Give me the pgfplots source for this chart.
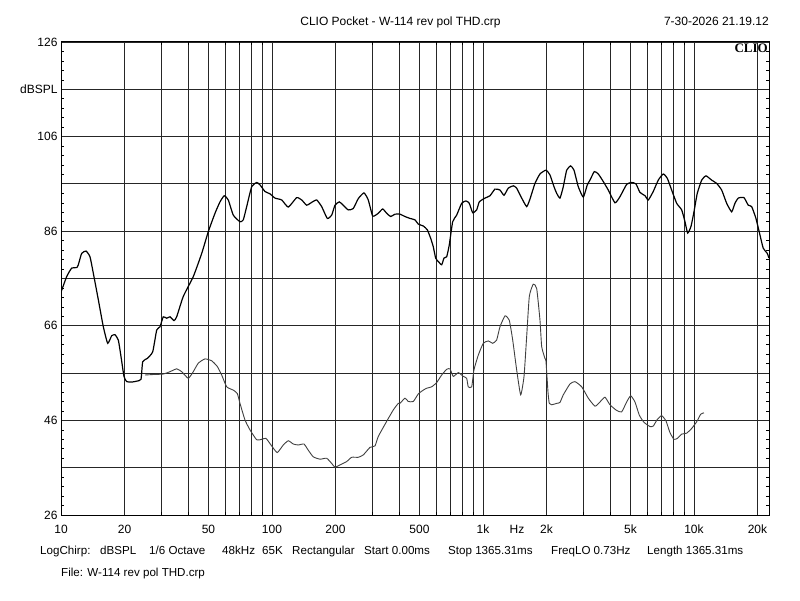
\documentclass[border=0pt]{standalone}
\usepackage{fontspec}
\setmainfont{Liberation Sans}
\newfontfamily\clioserif{Liberation Serif}
\usepackage{pgfplots}
\usepackage{pgfplotstable}
\pgfplotsset{compat=1.18}

\pgfplotstableread{
f db
10.0 73.1
10.64 76.4
11.24 78.2
11.87 78.3
12.08 78.9
12.53 81.3
13.14 81.8
13.72 80.6
14.23 77.1
15.03 71.5
15.87 65.8
16.65 62.3
17.39 63.9
18.03 64.1
18.69 63.0
19.25 59.5
19.89 55.3
20.49 54.2
21.63 54.1
22.85 54.3
23.94 54.7
24.39 58.4
25.64 59.1
27.20 60.5
28.42 65.1
29.46 65.8
30.53 67.9
31.69 67.6
32.86 67.9
34.32 67.1
35.34 67.9
37.98 72.2
42.36 76.4
46.44 81.3
49.90 85.9
53.70 89.8
56.70 92.2
59.41 93.5
62.07 92.6
65.55 89.4
70.53 88.0
73.11 88.4
75.87 91.2
80.13 95.4
84.62 96.3
87.71 95.8
92.64 94.4
97.84 93.9
103.3 93.0
111.2 92.6
119.5 91.1
130.9 93.1
138.3 92.6
146.0 91.5
154.3 92.1
162.8 92.6
172.0 91.2
182.9 88.7
191.9 89.4
198.9 91.5
208.4 92.2
217.7 91.5
229.9 90.5
242.8 90.8
256.5 92.9
272.9 94.1
286.0 92.6
300.2 89.2
319.0 89.8
334.6 90.7
349.6 89.8
365.2 89.1
382.8 89.6
404.2 89.6
426.9 89.1
450.8 88.7
476.1 88.4
493.6 87.5
521.3 87.1
544.5 86.3
565.0 84.5
581.4 82.7
596.8 80.3
614.0 79.6
637.2 78.9
653.4 80.3
673.0 80.6
692.3 83.1
718.5 88.0
750.6 89.4
792.7 91.9
830.6 92.4
861.1 91.9
893.6 89.9
933.5 90.5
960.5 92.2
1022 93.0
1080 93.5
1140 94.9
1204 94.7
1258 93.6
1318 95.1
1392 95.6
1444 95.1
1526 93.0
1611 91.2
1670 92.8
1764 96.1
1863 98.1
1989 98.9
2077 97.9
2171 95.4
2236 94.0
2317 93.0
2402 95.4
2493 98.9
2604 99.8
2700 98.9
2830 95.4
2988 93.2
3122 95.8
3215 96.8
3370 98.6
3520 98.1
3717 96.5
3925 94.7
4223 92.0
4460 93.3
4797 95.9
5067 96.3
5310 96.0
5548 94.2
5860 93.5
6074 92.6
6413 94.4
6774 96.8
7154 98.1
7473 97.2
7840 94.7
8279 91.9
8745 90.5
9066 88.0
9335 85.6
9679 87.0
10000 90.1
10366 94.0
10877 96.8
11400 97.7
12132 96.8
12812 96.1
13529 94.7
14289 91.9
15090 90.1
15642 91.9
16220 93.0
17258 93.1
18085 91.5
18771 91.2
19670 88.7
20550 85.2
21300 82.4
22260 81.3
22680 80.3
}\resptable

\pgfplotstableread{
f db
25.01 55.6
27.38 55.7
30.53 55.8
32.86 56.3
35.34 56.9
37.33 56.3
40.11 54.9
42.36 56.3
44.74 58.1
48.13 59.0
51.79 58.6
55.05 57.4
57.76 55.6
61.00 53.1
65.55 52.4
68.47 51.7
70.53 49.6
74.47 46.1
78.65 44.0
84.62 41.9
89.38 42.0
93.67 42.2
99.68 40.6
105.9 39.2
113.1 40.8
119.5 41.7
126.2 41.0
133.2 40.8
141.8 41.0
148.6 39.7
156.9 38.3
168.9 37.8
181.6 38.0
191.9 36.9
198.9 36.1
210.1 36.6
225.9 37.3
238.6 38.2
256.5 38.2
270.8 38.7
291.4 40.3
307.7 40.6
319.0 42.6
349.6 45.8
375.7 48.2
396.8 49.6
404.2 49.6
426.9 50.7
442.6 50.0
467.5 50.0
493.6 51.6
521.3 52.4
541.0 52.8
571.3 53.1
603.4 54.0
637.2 55.6
673.0 56.8
697.7 56.9
723.4 55.3
763.9 56.1
806.7 55.3
836.9 54.9
851.7 53.1
884.1 53.1
906.5 56.7
950.0 59.8
1003 62.3
1060 62.8
1112 62.3
1161 63.0
1204 65.8
1272 68.1
1332 67.2
1383 63.0
1444 56.7
1509 51.4
1565 55.3
1611 63.7
1658 72.2
1731 74.8
1797 73.9
1863 67.2
1898 61.6
1967 59.1
1989 58.5
2033 52.0
2062 49.6
2117 49.3
2236 49.6
2317 49.8
2402 51.4
2584 53.7
2729 54.2
2937 53.1
3156 50.7
3396 49.0
3585 49.9
3786 50.9
3999 49.3
4302 48.1
4543 47.8
4797 49.9
5012 51.2
5253 49.9
5508 47.1
5794 45.6
6188 44.7
6413 44.8
6701 46.2
7030 47.0
7368 45.9
7697 43.4
8041 42.0
8338 42.2
8745 43.1
9235 43.3
9752 44.3
10299 45.7
10760 47.3
11155 47.6
}\thdtable

\begin{document}
\begin{tikzpicture}[font=\fontsize{12}{14}\selectfont]
\path[use as bounding box, fill=white] (0,0) rectangle (800pt,600pt);
\begin{axis}[
  at={(61pt,85pt)}, anchor=south west,
  scale only axis, width=708pt, height=473pt,
  xmode=log, log basis x=10,
  xmin=10, xmax=22680, ymin=26, ymax=126,
  xtick={10,20,50,100,200,500,1000,2000,5000,10000,20000},
  xticklabels={10,20,50,100,200,500,1k,2k,5k,10k,20k},
  minor xtick={30,40,60,70,80,90,300,400,600,700,800,900,3000,4000,6000,7000,8000,9000},
  extra x ticks={1449}, extra x tick labels={Hz},
  extra x tick style={grid=none},
  ytick={26,36,...,126},
  yticklabels={26,,46,,66,,86,,106,dBSPL,126},
  minor y tick num=4,
  xmajorgrids=true, xminorgrids=true, ymajorgrids=true,
  major grid style={black!85, line width=0.8pt},
  minor grid style={black!85, line width=0.8pt},
  tick align=inside, tick pos=both,
  major tick length=0pt, minor tick length=3pt,
  every tick/.style={black, line width=0.6pt},
  axis line style={black, line width=1pt},
  tick label style={font=\fontsize{12}{14}\selectfont},
  xticklabel style={yshift=-6.5pt},
  xticklabel pos=lower, yticklabel pos=left,
  clip=true,
]
\addplot[black, line width=1.2pt, smooth, tension=0.3] table[x=f, y=db] {\resptable};
\addplot[black!75, line width=0.9pt, smooth, tension=0.3] table[x=f, y=db] {\thdtable};
\end{axis}
\node[anchor=base] at (400.5pt,574pt) {CLIO Pocket - W-114 rev pol THD.crp};
\node[anchor=base east, inner sep=0pt] at (769pt,574pt) {7-30-2026 21.19.12};
\node[anchor=base east, inner sep=0pt] at (768pt,547pt) {\clioserif\bfseries\fontsize{13}{14}\selectfont CLIO};
\begin{scope}[every node/.style={anchor=base west, inner sep=0pt, font=\fontsize{11.6}{14}\selectfont}]
\node at (40pt,45.5pt) {LogChirp:};
\node at (100pt,45.5pt) {dBSPL};
\node at (149pt,45.5pt) {1/6 Octave};
\node at (222pt,45.5pt) {48kHz};
\node at (262pt,45.5pt) {65K};
\node at (292pt,45.5pt) {Rectangular};
\node at (364pt,45.5pt) {Start 0.00ms};
\node at (448pt,45.5pt) {Stop 1365.31ms};
\node at (551pt,45.5pt) {FreqLO 0.73Hz};
\node at (647pt,45.5pt) {Length 1365.31ms};
\node at (61pt,24pt) {File: W-114 rev pol THD.crp};
\end{scope}
\end{tikzpicture}
\end{document}
